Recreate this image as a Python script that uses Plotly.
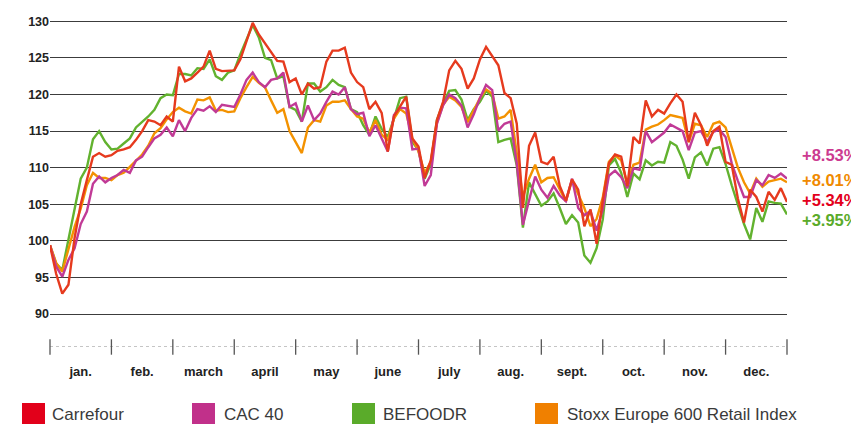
import numpy as np
import plotly.graph_objects as go

months = ["jan.", "feb.", "march", "april", "may", "june", "july",
          "aug.", "sept.", "oct.", "nov.", "dec."]
y_ticks = [90, 95, 100, 105, 110, 115, 120, 125, 130]

carrefour = [
    99.4, 95.5, 92.8, 94.0, 100.4, 105.0, 108.3, 111.5, 112.0, 111.5, 111.7,
    112.3, 112.5, 112.8, 113.8, 115.0, 116.5, 116.3, 115.8, 117.0, 116.3,
    123.8, 121.8, 122.2, 123.0, 123.8, 126.0, 123.5, 123.2, 123.3, 123.3,
    124.8, 127.4, 129.8, 128.2, 127.0, 125.8, 124.6, 124.5, 121.7, 122.2,
    120.0, 121.5, 120.8, 121.0, 124.5, 126.0, 126.0, 126.4, 123.0, 121.7,
    121.0, 118.0, 119.0, 117.5, 112.2, 117.0, 118.4, 119.7, 114.0, 112.9,
    108.6, 111.0, 116.5, 119.0, 123.3, 124.6, 123.5, 120.8, 122.2, 124.8,
    126.5, 125.3, 124.0, 120.2, 119.5, 116.0, 104.5, 113.0, 114.8, 110.8,
    110.5, 111.5, 107.5, 105.5, 108.4, 107.0, 102.0, 104.3, 99.6, 105.5,
    110.6, 111.8, 111.5, 107.5, 114.2, 113.3, 119.2, 117.0, 117.9, 117.4,
    118.8, 120.0, 119.0, 113.5, 117.5, 115.8, 113.0, 115.0, 115.6, 110.8,
    110.4, 105.8, 102.5, 107.0, 106.0, 104.0, 106.7, 105.6, 107.2, 105.3,
]

befoodr = [
    99.4, 96.9, 96.0, 100.3, 104.5, 108.5, 110.0, 113.9, 115.0, 113.5, 112.5,
    112.6, 113.3, 114.0, 115.5, 116.2, 117.0, 117.9, 119.5, 120.0, 119.9,
    122.8, 122.8, 122.6, 123.6, 123.5, 124.8, 122.5, 122.0, 123.0, 123.3,
    125.5, 127.6, 129.5, 127.8, 125.0, 124.7, 122.2, 122.5, 118.3, 117.9,
    116.3, 121.5, 121.5, 120.4, 121.0, 122.0, 121.3, 121.0, 118.0, 117.6,
    115.8, 114.5, 117.0, 115.3, 114.2, 116.7, 119.5, 119.7, 113.5, 112.4,
    108.5, 110.5, 116.5, 118.8, 120.5, 120.6, 119.3, 116.5, 118.0, 119.0,
    120.5, 119.7, 113.5, 113.8, 114.0, 110.3, 101.8, 108.0, 106.5, 104.8,
    105.4, 106.5, 104.5, 102.3, 103.5, 102.5, 98.0, 97.0, 99.0, 102.9,
    110.3, 111.2, 109.3, 106.0, 109.2, 108.4, 111.0, 110.3, 110.8, 110.7,
    113.5, 113.0, 111.1, 108.5, 111.4, 112.1, 110.3, 112.6, 112.8, 110.5,
    107.6, 105.0, 102.3, 100.2, 104.5, 102.6, 105.4, 105.2, 105.1, 103.6,
]

stoxx = [
    99.4, 97.0, 95.8, 98.7, 101.9, 104.4, 107.6, 109.3, 108.6, 108.6, 108.3,
    109.0, 109.3, 110.1, 111.0, 111.8, 113.0, 114.7, 115.4, 116.6, 117.6,
    118.2, 117.7, 117.4, 119.3, 119.2, 119.6, 117.8, 117.9, 117.6, 117.7,
    119.5, 121.0, 122.4, 121.6, 121.0, 119.2, 117.5, 118.0, 115.0, 113.5,
    112.0, 115.5, 116.5, 116.3, 118.5, 119.0, 119.0, 119.2, 118.0, 117.0,
    116.7, 114.8, 116.5, 114.5, 113.8, 116.7, 118.0, 117.4, 114.0, 112.2,
    109.3, 110.8, 116.2, 118.6, 119.7, 119.2, 118.3, 116.2, 117.8, 119.5,
    120.7, 120.1, 116.7, 117.0, 117.9, 112.0, 106.0, 108.5, 110.4, 108.0,
    108.6, 108.7, 107.0, 105.4, 108.3, 106.3, 104.5, 102.0, 103.0, 105.9,
    110.8, 111.7, 111.0, 107.8, 110.4, 110.7, 115.2, 115.6, 115.9, 116.5,
    117.2, 117.0, 116.8, 113.5, 116.0, 115.8, 114.2, 116.0, 116.3, 115.5,
    112.6, 110.0, 108.0, 106.5, 108.5, 107.4, 108.1, 108.3, 108.5, 108.0,
]

cac40 = [
    99.4, 96.5, 95.1, 97.4, 99.0, 102.3, 104.0, 107.8, 108.8, 108.0, 108.6,
    109.0, 109.7, 109.3, 111.0, 111.5, 112.8, 114.0, 114.5, 115.5, 114.3,
    116.5, 115.0, 116.8, 118.0, 117.8, 118.4, 117.6, 118.6, 118.5, 118.3,
    120.0, 122.0, 123.0, 121.7, 121.0, 122.0, 122.2, 123.0, 118.3, 118.8,
    116.3, 118.5, 116.5, 117.4, 119.0, 120.4, 120.0, 121.0, 118.0, 117.3,
    117.5, 114.3, 115.8, 114.0, 112.2, 117.2, 118.2, 118.1, 112.5, 112.6,
    107.5, 109.0, 116.0, 118.5, 120.0, 119.5, 118.5, 115.5, 117.3, 119.5,
    121.3, 120.6, 115.1, 116.0, 116.3, 110.6, 102.2, 105.5, 108.8, 107.0,
    105.9, 107.5, 106.2, 105.4, 108.5, 104.5, 103.5, 104.1, 101.4, 104.3,
    108.9, 109.6, 108.7, 107.2, 109.9, 109.7, 115.0, 113.5, 114.2, 114.8,
    115.9, 115.5, 115.0, 112.4, 114.8, 115.0, 113.5, 114.9, 115.2, 114.2,
    110.6, 108.2, 106.0, 106.0, 108.3, 107.6, 109.0, 108.6, 109.2, 108.5,
]

legend_names = ["Carrefour", "CAC 40", "BEFOODR", "Stoxx Europe 600 Retail Index"]
end_labels = ["+8.53%", "+8.01%", "+5.34%", "+3.95%"]

# ---- styling ----
RED_L, MAG_L, GRN_L, ORG_L = "#e63a1e", "#c13a96", "#62b22f", "#f39200"
RED_S, MAG_S, GRN_S, ORG_S = "#e2001a", "#c1308a", "#5aab2a", "#f08000"
FONT = "Arial, 'Liberation Sans', Helvetica, sans-serif"

OFF = 8                      # page body margin of the html page
W, H = 859 - OFF, 424 - OFF  # figure size so it ends at the window edge
L = 50 - OFF                 # plot left at page x=50
R = W - (787 - OFF)          # plot right at page x=787
T = 14 - OFF                 # plot top at page y=14
B = H - (347 - OFF)          # plot bottom (axis line) at page y=347
PW, PH = W - L - R, H - T - B


def px_x(px):
    return (px - OFF - L) / PW


def px_y(py):
    return (H - B - (py - OFF)) / PH


n = len(carrefour)
x = np.linspace(0, len(months), n)

fig = go.Figure()
for vals, col in [(befoodr, GRN_L), (stoxx, ORG_L), (cac40, MAG_L), (carrefour, RED_L)]:
    fig.add_trace(go.Scatter(x=x, y=vals, mode="lines",
                             line=dict(color=col, width=2.4),
                             showlegend=False, hoverinfo="skip"))

# month boundary tick marks crossing the dotted axis line
fig.add_trace(go.Scatter(
    x=list(range(len(months) + 1)), y=[85.5] * (len(months) + 1),
    mode="markers", cliponaxis=False, showlegend=False, hoverinfo="skip",
    marker=dict(symbol="line-ns", size=11, line=dict(color="#555555", width=1.3)),
))

shapes = [dict(type="line", xref="x", yref="y", x0=0, x1=len(months), y0=85.5, y1=85.5,
               line=dict(color="#8a8a8a", width=1, dash="dot"), layer="below")]

annotations = []
# legend
sq_x = [22, 192, 352, 535]
tx_x = [50, 222, 381, 565]
sq_cols = [RED_S, MAG_S, GRN_S, ORG_S]
for name, sx, tx, c in zip(legend_names, sq_x, tx_x, sq_cols):
    shapes.append(dict(type="rect", xref="paper", yref="paper",
                       x0=px_x(sx), x1=px_x(sx + 23), y0=px_y(403), y1=px_y(428),
                       fillcolor=c, line=dict(width=0)))
    annotations.append(dict(text=name, xref="paper", yref="paper",
                            x=px_x(tx), y=px_y(414), xanchor="left", yanchor="middle",
                            showarrow=False, font=dict(family=FONT, size=17, color="#3a3a3a")))

# end labels
end_cols = ["#cc3a90", "#f08a00", "#e3001b", "#5aab2a"]
end_y = [155, 180, 200, 220]
for lab, c, yy in zip(end_labels, end_cols, end_y):
    annotations.append(dict(text="<b>" + lab + "</b>", xref="paper", yref="paper",
                            x=px_x(800), y=px_y(yy), xanchor="left", yanchor="middle",
                            showarrow=False, font=dict(family=FONT, size=16.5, color=c)))

fig.update_layout(
    width=W, height=H,
    margin=dict(l=L, r=R, t=T, b=B, pad=0),
    paper_bgcolor="white", plot_bgcolor="white",
    shapes=shapes, annotations=annotations,
    xaxis=dict(range=[0, len(months)], tickvals=[i + 0.5 for i in range(len(months))],
               ticktext=["<b>" + m + "</b>" for m in months],
               ticks="outside", ticklen=12, tickcolor="rgba(0,0,0,0)",
               tickfont=dict(family=FONT, size=13, color="#222222"),
               showgrid=False, zeroline=False, showline=False, fixedrange=True),
    yaxis=dict(range=[85.5, 131], tickvals=y_ticks,
               ticktext=["<b>%d</b>" % v for v in y_ticks],
               ticks="",
               tickfont=dict(family=FONT, size=12.5, color="#222222"),
               showgrid=True, gridcolor="#3c3c3c", gridwidth=1.3,
               zeroline=False, showline=False, fixedrange=True),
)

fig.write_html("out.html")
